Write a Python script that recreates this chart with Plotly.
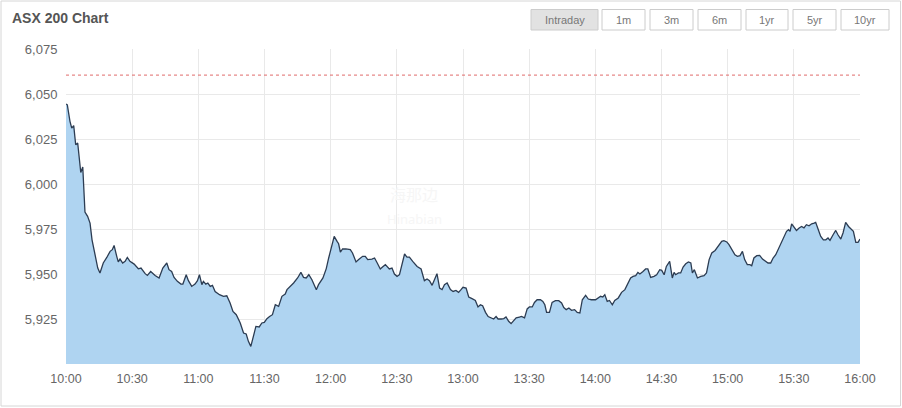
import pandas as pd
import plotly.graph_objects as go

# ---- data (minutes after 10:00, index level) ----
minutes = [
    0, 0.6, 1.8, 2.6, 3.5, 4.4, 5.3, 6.7, 7.6, 8.6, 9.8, 10.9, 11.8, 13.2, 14.4, 15.4,
    16.9, 18.5, 20, 21, 21.8, 23, 23.7, 24.5, 25.7, 26.8, 27.8, 29, 30.9, 32.8, 34,
    35.9, 36.9, 38.4, 40.4, 42.2, 43.9, 45.7, 46.7, 47.9, 49, 50.5, 52.1, 53, 54.5,
    55.5, 57, 58.5, 59.6, 60.5, 61.6, 62.3, 63.4, 64.3, 65.4, 66.4, 67.6, 69.6, 71.4,
    72.9, 74.4, 75.7, 77.2, 79, 80.5, 81.7, 82.7, 83.8, 85, 86.1, 87.6, 88.8, 89.9,
    91.1, 92.3, 93.6, 94.9, 96.4, 97.9, 99.4, 100.2, 101.7, 103.2, 105, 106.5, 107.7,
    108.9, 110.1, 111.5, 113.5, 114.5, 116.5,
    118, 119.1, 120.3, 121.6, 122.9, 123.6, 124.4, 125.4, 126.9, 128.9, 129.9, 131.5,
    132.7, 134.5, 135.7, 136.8, 138.7, 139.9, 141, 142.5, 143.5, 144.8, 146.6, 147.8,
    148.9, 150.1, 151.2, 152.4, 153.5, 154.6, 155.7, 157.2, 159.2, 161, 162.5, 163.7,
    164.8, 166, 167.1, 168.2, 169.4, 170.5, 171.6, 172.8, 174.3, 175.5, 176.8, 178,
    179.1, 180, 181.4, 182.6, 184.1, 185.6, 186.8, 187.9, 188.9, 190.2, 191.4, 192.7,
    193.9, 195, 195.9, 197.4, 198.5, 199.5, 200.7, 201.8, 203, 204.1, 205.6, 206.5,
    207.9, 209.1, 210.1, 211.4, 212.4, 213.6, 215.1, 216.2, 217.1, 217.9, 219.2, 220.4,
    221.9, 223.4, 224.7, 225.7, 226.8, 228, 229.2, 230.6, 231.8, 233, 234.1, 235.6,
    236.8, 238.2,
    240.1, 241.3, 242.4, 243.4, 244.3, 245.4, 246.4, 247.7, 248.8, 250.4, 251.9, 253.4,
    254.8, 256, 257.1, 258.3, 259.3, 260.2, 261.6, 262.8, 263.8, 265.1, 266.6, 267.8,
    269.2, 270.1, 271.2, 272.2, 273.7, 274.9, 275.7, 276.4, 277.7, 278.7, 279.8, 281,
    282.2, 283.3, 284, 284.9, 286.3, 287.8, 289.3, 290.4, 291.6, 292.8, 294.3, 295.8,
    297.3, 298.3, 299.6, 300.6, 302.1, 303.3, 304.4, 305.6, 306.7, 307.7, 308.9, 310.1,
    310.9, 311.9, 313.2, 314.5, 315.8, 317, 318.3, 319.5, 320.6, 321.8, 323, 324.1,
    325.1, 326.7, 327.6, 328.3, 329, 330.1, 331.2, 332.4, 333.5, 334.6, 335.7, 336.9,
    338.1, 339.2, 339.9, 341.1, 342.2, 343.4, 344.5, 345.5, 346.4, 347.8, 349, 350,
    351.3, 352.3, 353.5, 354.8, 356.3, 357, 358.1, 359.1, 360,
]
index_values = [
    6044.4, 6044.0, 6034.8, 6031.0, 6032.4, 6021.8, 6022.8, 6006.4, 6009.4, 5984.4,
    5982.0, 5978.3, 5969.0, 5960.7, 5953.3, 5950.6, 5956.1, 5959.2, 5962.6, 5963.5,
    5965.9, 5959.8, 5956.7, 5958.3, 5956.1, 5957.0, 5959.2, 5957.0, 5955.5, 5952.9,
    5953.3, 5950.2, 5949.2, 5951.4, 5949.2, 5947.8, 5953.3, 5956.1, 5952.4, 5951.4,
    5948.1, 5945.9, 5944.4, 5944.4, 5949.6, 5946.3, 5943.1, 5944.4, 5946.3, 5949.6,
    5944.1, 5945.9, 5944.4, 5945.0, 5943.1, 5943.7, 5940.3, 5938.5, 5937.6, 5937.9,
    5933.9, 5929.2, 5927.4, 5922.8, 5917.2, 5916.7, 5912.6, 5909.8, 5916.3, 5920.9,
    5920.6, 5922.8, 5923.1, 5925.2, 5926.4, 5927.4, 5932.9, 5932.0, 5937.6, 5938.9,
    5941.3, 5943.1, 5945.0, 5947.8, 5950.9, 5948.1, 5947.8, 5949.6, 5946.8, 5941.3,
    5944.1, 5947.8,
    5953.0, 5958.9, 5965.3, 5970.9, 5968.1, 5966.8, 5962.2, 5963.9, 5963.9, 5963.5,
    5961.7, 5956.7, 5958.0, 5959.8, 5959.8, 5958.0, 5958.3, 5958.9, 5956.4, 5952.8,
    5953.9, 5955.2, 5952.8, 5953.3, 5950.0, 5948.7, 5949.6, 5955.2, 5961.1, 5959.4,
    5959.4, 5957.0, 5954.2, 5952.8, 5946.3, 5947.2, 5946.3, 5943.7, 5947.2, 5950.2,
    5942.2, 5941.3, 5944.1, 5945.0, 5941.3, 5940.3, 5940.9, 5939.8, 5941.3, 5942.6,
    5942.2, 5937.2, 5936.3, 5935.3, 5931.7, 5932.9, 5932.4, 5928.7, 5926.4, 5925.6,
    5925.0, 5926.4, 5925.0, 5925.0, 5925.2, 5926.1, 5923.7, 5922.4, 5924.1, 5925.6,
    5926.1, 5926.4, 5925.6, 5930.6, 5931.7, 5931.7, 5934.2, 5935.7, 5935.7, 5934.8,
    5932.9, 5928.7, 5928.7, 5934.2, 5935.2, 5935.2, 5933.9, 5931.4, 5930.2, 5931.1,
    5929.8, 5930.2, 5928.7, 5928.3, 5935.7, 5938.1, 5936.1, 5935.7,
    5935.7, 5936.7, 5937.6, 5937.2, 5938.5, 5934.8, 5935.3, 5932.9, 5935.3, 5936.7,
    5939.8, 5941.3, 5945.0, 5947.8, 5948.7, 5949.1, 5950.9, 5950.0, 5951.4, 5952.8,
    5952.8, 5948.1, 5948.7, 5949.6, 5952.4, 5952.0, 5949.6, 5954.2, 5957.0, 5947.8,
    5950.9, 5949.6, 5950.6, 5950.6, 5953.9, 5955.7, 5956.7, 5956.1, 5950.6, 5952.4,
    5947.8, 5948.7, 5949.1, 5950.6, 5958.0, 5961.7, 5963.1, 5965.3, 5968.1, 5968.5,
    5967.8, 5966.3, 5963.5, 5960.7, 5959.8, 5960.2, 5962.6, 5958.0, 5955.2, 5955.2,
    5954.6, 5958.9, 5960.2, 5960.3, 5958.3, 5957.0, 5956.1, 5956.1, 5958.9, 5960.7,
    5963.9, 5967.2, 5970.0, 5973.7, 5974.6, 5973.7, 5977.9, 5976.1, 5974.2, 5975.6,
    5976.4, 5975.6, 5977.4, 5976.8, 5977.9, 5978.3, 5978.7, 5974.6, 5970.9, 5969.0,
    5969.0, 5970.0, 5968.7, 5971.8, 5974.2, 5971.8, 5969.4, 5972.8, 5978.7, 5976.4,
    5974.6, 5973.7, 5967.6, 5967.6, 5969.4,
]
previous_close = 6060.5
y_ticks = [5925, 5950, 5975, 6000, 6025, 6050, 6075]
x_tick_labels = ["10:00", "10:30", "11:00", "11:30", "12:00", "12:30", "13:00",
                 "13:30", "14:00", "14:30", "15:00", "15:30", "16:00"]
range_buttons = ["Intraday", "1m", "3m", "6m", "1yr", "5yr", "10yr"]
title_text = "ASX 200 Chart"
watermark_cn = "海那边"
watermark_en = "Hinabian"

day = "2018-06-01"
base = pd.Timestamp(f"{day} 10:00")
times = [base + pd.Timedelta(minutes=m) for m in minutes]
tick_times = [pd.Timestamp(f"{day} {t}") for t in x_tick_labels]

FONT = "Liberation Sans, Arial, sans-serif"

W, H = 902, 408
L, R, T, B = 66, 42, 49, 44
pw, ph = W - L - R, H - T - B


def px(x):
    return (x - L) / pw


def py(y):
    return 1 - (y - T) / ph


fig = go.Figure()
fig.add_trace(go.Scatter(
    x=times, y=index_values, mode="lines",
    line=dict(color="#2c3c52", width=1.3),
    fill="tozeroy", fillcolor="#afd4f1",
    hoverinfo="x+y", showlegend=False,
))

# previous close dotted line
fig.add_shape(type="line", xref="paper", x0=0, x1=1, yref="y",
              y0=previous_close, y1=previous_close,
              line=dict(color="#e06a6a", width=1, dash="dot"))

# outer frame
fig.add_shape(type="rect", xref="paper", yref="paper",
              x0=px(1), x1=px(900.5), y0=py(406), y1=py(1),
              line=dict(color="#d6d6d6", width=1), layer="below")

# range buttons
btn_x = [(531, 598), (602, 645), (650, 693), (698, 741), (746, 788), (793, 836), (841, 889)]
for i, (label, (a, b)) in enumerate(zip(range_buttons, btn_x)):
    fig.add_shape(type="rect", xref="paper", yref="paper",
                  x0=px(a), x1=px(b), y0=py(30), y1=py(9.5),
                  line=dict(color="#cccccc", width=1),
                  fillcolor="#e2e2e2" if i == 0 else "#ffffff")
    fig.add_annotation(xref="paper", yref="paper", x=px((a + b) / 2), y=py(19.8),
                       text=label, showarrow=False,
                       font=dict(family=FONT, size=11, color="#777777"),
                       xanchor="center", yanchor="middle")

# title
fig.add_annotation(xref="paper", yref="paper", x=px(10), y=py(18),
                   text=f"<b>{title_text}</b>", showarrow=False,
                   font=dict(family=FONT, size=14, color="#555555"),
                   xanchor="left", yanchor="middle")

# faint watermark
fig.add_annotation(xref="paper", yref="paper", x=px(414), y=py(194),
                   text=watermark_cn, showarrow=False,
                   font=dict(family="Noto Sans CJK SC", size=16, color="#f6f6f6"),
                   xanchor="center", yanchor="middle")
fig.add_annotation(xref="paper", yref="paper", x=px(414), y=py(219),
                   text=watermark_en, showarrow=False,
                   font=dict(family="Noto Sans", size=13, color="#f6f6f6"),
                   xanchor="center", yanchor="middle")

fig.update_layout(
    width=W, height=H,
    margin=dict(l=L, r=R, t=T, b=B, pad=0),
    paper_bgcolor="white", plot_bgcolor="white",
    font=dict(family=FONT, size=12, color="#666666"),
    xaxis=dict(
        type="date", range=[tick_times[0], tick_times[-1]],
        tickvals=tick_times, ticktext=x_tick_labels,
        showgrid=True, gridcolor="#e9e9e9", gridwidth=1,
        zeroline=False, showline=False,
        ticks="outside", ticklen=3, tickcolor="rgba(0,0,0,0)",
        tickfont=dict(size=12.5, color="#666666"),
    ),
    yaxis=dict(
        range=[5900, 6075], tickvals=y_ticks,
        ticktext=[f"{v:,}" for v in y_ticks],
        showgrid=True, gridcolor="#e9e9e9", gridwidth=1,
        zeroline=False, showline=False,
        ticks="outside", ticklen=5, tickcolor="rgba(0,0,0,0)",
        tickfont=dict(size=13, color="#666666"),
    ),
)

fig.write_html("out.html", config={"displayModeBar": False},
               post_script="document.body.style.margin='0';document.body.style.overflow='hidden';")
